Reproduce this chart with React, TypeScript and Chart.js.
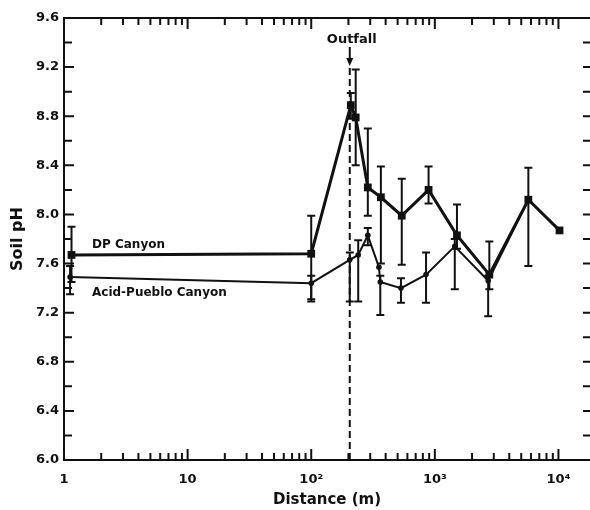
import React, { useEffect, useRef } from 'react';
import { Chart, registerables } from 'chart.js';

Chart.register(...registerables);

// ---- data ----
const dpX = [1.15, 100, 209, 229, 287, 366, 540, 890, 1510, 2760, 5710, 10200];
const dpY = [7.67, 7.68, 8.89, 8.79, 8.22, 8.14, 7.99, 8.2, 7.83, 7.51, 8.12, 7.87];
const dpLow = [7.45, 7.29, 8.78, 8.4, 7.99, 7.6, 7.59, 8.09, 7.72, 7.39, 7.58, null];
const dpHigh = [7.9, 7.99, 8.99, 9.18, 8.7, 8.39, 8.29, 8.39, 8.08, 7.78, 8.38, null];

const apX = [1.12, 100, 205, 240, 287, 353, 362, 532, 849, 1450, 2700, 5710];
const apY = [7.49, 7.44, 7.63, 7.67, 7.83, 7.57, 7.45, 7.4, 7.51, 7.74, 7.46, 8.12];
const apLow = [7.35, 7.31, 7.29, 7.29, 7.75, null, 7.18, 7.28, 7.28, 7.39, 7.17, null];
const apHigh = [7.58, 7.5, 7.69, 7.79, 7.89, null, 7.5, 7.48, 7.69, 7.8, 7.5, null];

const xTickValues = [1, 10, 100, 1000, 10000];
const xTickLabels = ['1', '10', '10²', '10³', '10⁴'];
const xMin = 1;
const xMax = 18000;
const yMin = 6.0;
const yMax = 9.6;
const yLabelStep = 0.4;
const yMinorStep = 0.2;
const outfallX = 205;

const seriesNames = ['DP Canyon', 'Acid-Pueblo Canyon'];

const FONT = '"DejaVu Sans", sans-serif';
const INK = '#111111';

const decorPlugin = {
  id: 'decor',
  beforeDatasetsDraw(chart: any) {
    const ctx = chart.ctx;
    const xs = chart.scales.x;
    const ys = chart.scales.y;
    const area = chart.chartArea;
    ctx.save();
    // outfall dashed line
    const ox = xs.getPixelForValue(outfallX);
    ctx.strokeStyle = INK;
    ctx.lineWidth = 2;
    ctx.setLineDash([7, 4]);
    ctx.beginPath();
    ctx.moveTo(ox, 68);
    ctx.lineTo(ox, area.bottom);
    ctx.stroke();
    ctx.setLineDash([]);
    // arrow
    ctx.beginPath();
    ctx.moveTo(ox, 47);
    ctx.lineTo(ox, 60);
    ctx.stroke();
    ctx.fillStyle = INK;
    ctx.beginPath();
    ctx.moveTo(ox - 3.5, 58);
    ctx.lineTo(ox + 3.5, 58);
    ctx.lineTo(ox, 66);
    ctx.closePath();
    ctx.fill();

    // error bars
    chart.data.datasets.forEach((ds: any) => {
      const lows = ds.errLow as (number | null)[];
      const highs = ds.errHigh as (number | null)[];
      ds.data.forEach((p: any, i: number) => {
        const lo = lows[i];
        const hi = highs[i];
        if (lo == null || hi == null) return;
        const px = xs.getPixelForValue(p.x);
        const pl = ys.getPixelForValue(lo);
        const ph = ys.getPixelForValue(hi);
        ctx.lineWidth = 2;
        ctx.beginPath();
        ctx.moveTo(px, pl);
        ctx.lineTo(px, ph);
        ctx.moveTo(px - 4, pl);
        ctx.lineTo(px + 4, pl);
        ctx.moveTo(px - 4, ph);
        ctx.lineTo(px + 4, ph);
        ctx.stroke();
      });
    });
    ctx.restore();
  },
  afterDraw(chart: any) {
    const ctx = chart.ctx;
    const xs = chart.scales.x;
    const ys = chart.scales.y;
    const area = chart.chartArea;
    ctx.save();
    ctx.strokeStyle = INK;
    ctx.lineWidth = 2;
    // top axis line
    ctx.beginPath();
    ctx.moveTo(area.left, area.top);
    ctx.lineTo(area.right, area.top);
    ctx.stroke();
    // y ticks (left + right, inward)
    const nY = Math.round((yMax - yMin) / yMinorStep);
    for (let k = 0; k <= nY; k++) {
      const v = yMin + k * yMinorStep;
      const py = ys.getPixelForValue(v);
      const major = k % Math.round(yLabelStep / yMinorStep) === 0;
      ctx.beginPath();
      ctx.moveTo(area.left, py);
      ctx.lineTo(area.left + (major ? 10 : 8), py);
      if (k > 0 && k < nY) {
        ctx.moveTo(area.right, py);
        ctx.lineTo(area.right - 7, py);
      }
      ctx.stroke();
    }
    // log ticks on top and bottom, inward
    for (let d = 0; d <= 4; d++) {
      for (let m = 1; m <= 9; m++) {
        const v = m * Math.pow(10, d);
        if (v < xMin || v > xMax) continue;
        const px = xs.getPixelForValue(v);
        const len = m === 1 ? 11 : 7;
        ctx.beginPath();
        ctx.moveTo(px, area.bottom);
        ctx.lineTo(px, area.bottom - len);
        ctx.moveTo(px, area.top);
        ctx.lineTo(px, area.top + len);
        ctx.stroke();
      }
    }
    // annotations
    ctx.fillStyle = INK;
    ctx.textBaseline = 'middle';
    ctx.textAlign = 'center';
    ctx.font = `bold 13px ${FONT}`;
    ctx.fillText('Outfall', xs.getPixelForValue(outfallX) + 2, 40);
    ctx.textAlign = 'left';
    ctx.font = `bold 12px ${FONT}`;
    ctx.fillText(seriesNames[0], 92, 245);
    ctx.fillText(seriesNames[1], 92, 293);
    ctx.restore();
  },
};

export default function App() {
  const ref = useRef<HTMLCanvasElement | null>(null);

  useEffect(() => {
    if (!ref.current) return;
    const chart = new Chart(ref.current, {
      type: 'scatter',
      data: {
        datasets: [
          {
            label: seriesNames[0],
            data: dpX.map((x, i) => ({ x, y: dpY[i] })),
            errLow: dpLow,
            errHigh: dpHigh,
            showLine: true,
            borderColor: INK,
            backgroundColor: INK,
            borderWidth: 3,
            pointStyle: 'rect',
            pointRadius: 5.5,
            pointBorderWidth: 0,
            pointBackgroundColor: INK,
            tension: 0,
          } as any,
          {
            label: seriesNames[1],
            data: apX.map((x, i) => ({ x, y: apY[i] })),
            errLow: apLow,
            errHigh: apHigh,
            showLine: true,
            borderColor: INK,
            backgroundColor: INK,
            borderWidth: 2,
            pointStyle: 'circle',
            pointRadius: 2.8,
            pointBorderWidth: 0,
            pointBackgroundColor: INK,
            tension: 0,
          } as any,
        ],
      },
      options: {
        responsive: false,
        animation: false,
        layout: { autoPadding: false, padding: { top: 18, right: 0, left: 0, bottom: 0 } },
        plugins: {
          legend: { display: false },
          tooltip: { enabled: false },
        },
        scales: {
          x: {
            type: 'logarithmic',
            min: xMin,
            max: xMax,
            position: 'bottom',
            afterBuildTicks: (s: any) => {
              s.ticks = xTickValues.map((v) => ({ value: v }));
            },
            afterFit: (s: any) => {
              s.height = 50;
              s.paddingLeft = 0;
              s.paddingRight = 0;
            },
            ticks: {
              autoSkip: false,
              maxRotation: 0,
              padding: 12,
              color: INK,
              font: { family: FONT, size: 13, weight: 'bold' },
              callback: (v: any) => {
                const idx = xTickValues.indexOf(Number(v));
                return idx >= 0 ? xTickLabels[idx] : '';
              },
            },
            grid: { display: false, drawTicks: false },
            border: { display: true, width: 2, color: INK },
            title: {
              display: true,
              text: 'Distance (m)',
              color: INK,
              font: { family: FONT, size: 15, weight: 'bold' },
              padding: { top: 0, bottom: 1 },
            },
          },
          y: {
            type: 'linear',
            min: yMin,
            max: yMax,
            afterFit: (s: any) => {
              s.width = 64;
              s.paddingTop = 0;
              s.paddingBottom = 0;
            },
            ticks: {
              stepSize: yLabelStep,
              padding: 5,
              color: INK,
              font: { family: FONT, size: 13, weight: 'bold' },
              callback: (v: any) => Number(v).toFixed(1),
            },
            grid: { display: false, drawTicks: false },
            border: { display: true, width: 2, color: INK },
            title: {
              display: true,
              text: 'Soil pH',
              color: INK,
              font: { family: FONT, size: 16, weight: 'bold' },
              padding: { top: 8, bottom: 0 },
            },
          },
        },
      } as any,
      plugins: [decorPlugin],
    });
    return () => chart.destroy();
  }, []);

  return (
    <div style={{ position: 'fixed', left: 0, top: 0, width: 590, height: 510, background: '#fff' }}>
      <canvas ref={ref} width={590} height={510} style={{ display: 'block' }} />
    </div>
  );
}
